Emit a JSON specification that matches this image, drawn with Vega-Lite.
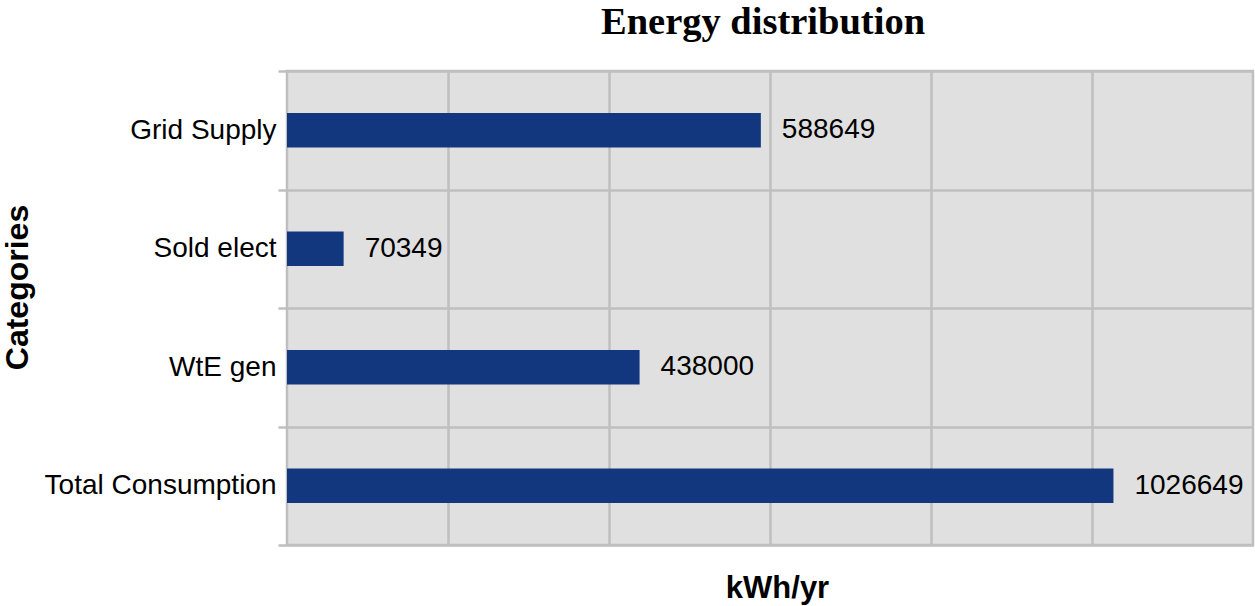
{
  "$schema": "https://vega.github.io/schema/vega-lite/v6.json",
  "width": 966,
  "height": 474,
  "autosize": {"type": "none"},
  "padding": {"left": 287, "top": 71, "right": 2, "bottom": 61},
  "background": "white",
  "config": {
    "view": {"fill": "#e0e0e0", "stroke": "#bfbfbf", "strokeWidth": 2.5},
    "font": "Liberation Sans"
  },
  "title": {
    "text": "Energy distribution",
    "font": "Liberation Serif",
    "fontSize": 38.5,
    "fontWeight": "bold",
    "color": "black",
    "anchor": "middle",
    "frame": "group",
    "dx": -7,
    "baseline": "alphabetic",
    "offset": -15
  },
  "data": {
    "values": [
      {"category": "Grid Supply", "value": 588649},
      {"category": "Sold elect", "value": 70349},
      {"category": "WtE gen", "value": 438000},
      {"category": "Total Consumption", "value": 1026649}
    ]
  },
  "encoding": {
    "y": {
      "field": "category",
      "type": "nominal",
      "sort": null,
      "scale": {"paddingInner": 0, "paddingOuter": 0},
      "axis": {
        "title": "Categories",
        "titleFont": "Liberation Sans",
        "titleFontSize": 32,
        "titleFontWeight": "bold",
        "titleColor": "black",
        "titleAngle": -90,
        "titleX": -270,
        "titleY": 216,
        "titleAlign": "center",
        "titleBaseline": "middle",
        "labelFont": "Liberation Sans",
        "labelFontSize": 28,
        "labelColor": "black",
        "labelLimit": 400,
        "labelPadding": 2,
        "tickSize": 9,
        "tickColor": "#bfbfbf",
        "tickWidth": 2.5,
        "tickBand": "extent",
        "grid": true,
        "gridColor": "#bfbfbf",
        "gridWidth": 2.5,
        "domain": false
      }
    },
    "x": {
      "field": "value",
      "type": "quantitative",
      "scale": {"domain": [0, 1200000], "nice": false},
      "axis": {
        "title": "kWh/yr",
        "labels": false,
        "ticks": false,
        "domain": false,
        "grid": true,
        "values": [200000, 400000, 600000, 800000, 1000000],
        "gridColor": "#bfbfbf",
        "gridWidth": 2.5,
        "titleFont": "Liberation Sans",
        "titleFontSize": 31,
        "titleFontWeight": "bold",
        "titleColor": "black",
        "titleX": 490,
        "titleY": 52,
        "titleAlign": "center",
        "titleBaseline": "alphabetic"
      }
    }
  },
  "layer": [
    {"mark": {"type": "bar", "color": "#13377f", "height": {"band": 0.29}}},
    {
      "mark": {
        "type": "text",
        "align": "left",
        "baseline": "middle",
        "dx": 21,
        "fontSize": 28,
        "font": "Liberation Sans",
        "color": "black"
      },
      "encoding": {"text": {"field": "value", "type": "quantitative", "format": "d"}}
    }
  ]
}
